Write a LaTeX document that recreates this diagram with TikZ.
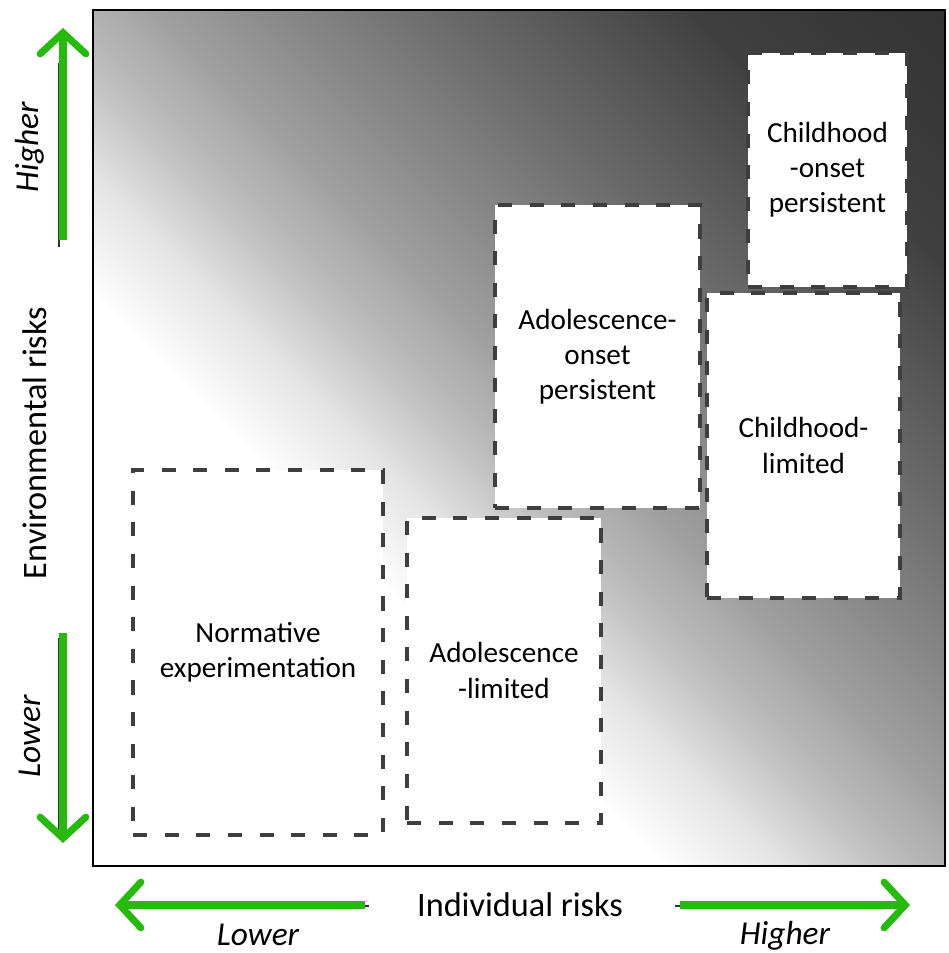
\documentclass[tikz,border=0pt]{standalone}
\usepackage{fontspec}
\setmainfont{Carlito}
\usetikzlibrary{arrows.meta,shadings}

\definecolor{riskgreen}{RGB}{38,186,12}
\definecolor{dashgray}{RGB}{62,62,62}

% background of the risk field, light bottom-left, dark top-right
\pgfdeclarehorizontalshading{riskbg}{100bp}{rgb(0bp)=(1,1,1); rgb(38bp)=(1,1,1); rgb(43bp)=(0.9,0.9,0.9); rgb(48bp)=(0.74,0.74,0.74); rgb(53bp)=(0.62,0.62,0.62); rgb(63bp)=(0.44,0.44,0.44); rgb(75bp)=(0.25,0.25,0.25); rgb(85bp)=(0.2,0.2,0.2); rgb(100bp)=(0.2,0.2,0.2)}

\tikzset{
	riskbox/.style = {draw = dashgray, line width = 2.6pt, dash pattern = on 8pt off 10pt,
		fill = white, align = center, font = \fontsize{16.6}{20}\selectfont, inner sep = 0pt},
	greenarrow/.style = {draw = riskgreen, line width = 4pt,
		-{Straight Barb[length = 12pt, width = 26pt, line cap = round]}},
	oldline/.style = {draw = black!80, line width = 1.3pt},
	axistext/.style = {font = \fontsize{19.5}{23}\selectfont},
	endtext/.style = {font = \fontsize{19}{23}\selectfont\itshape, inner sep = 0pt}
}

\begin{document}
\begin{tikzpicture}
	\useasboundingbox (0,0) rectangle (18.96,19.06);
	
	% field
	\shade[shading = riskbg, shading angle = 45] (1.86,1.74) rectangle (18.9,18.86);
	\draw[line width = 1.2pt] (1.86,1.74) rectangle (18.9,18.86);
	
	% groups
	\node[riskbox, minimum width = 5.0cm, minimum height = 7.3cm] (normative) at (5.16,6.01) {Normative\\experimentation};
	\node[riskbox, minimum width = 3.88cm, minimum height = 6.1cm] (adollim) at (10.08,5.65) {Adolescence\\-limited};
	\node[riskbox, minimum width = 4.1cm, minimum height = 6.06cm] (adolpers) at (11.95,11.93) {Adolescence-\\onset\\persistent};
	\node[riskbox, minimum width = 3.86cm, minimum height = 6.1cm] (childlim) at (16.07,10.15) {Childhood-\\limited};
	\node[riskbox, minimum width = 3.18cm, minimum height = 4.68cm] (childpers) at (16.55,15.66) {Childhood\\-onset\\persistent};
	
	% axis arrows
	\coordinate (envhitail) at (1.26,14.26);
	\coordinate (envhitip) at (1.26,18.5);
	\coordinate (envlotail) at (1.26,6.4);
	\coordinate (envlotip) at (1.26,2.2);
	\coordinate (indlotail) at (7.3,0.96);
	\coordinate (indlotip) at (2.3,0.96);
	\coordinate (indhitail) at (13.6,0.96);
	\coordinate (indhitip) at (18.2,0.96);
	
	\draw[oldline] (1.18,14.12) -- (1.18,17.8);
	\draw[oldline] (1.18,6.3) -- (1.18,2.3);
	\draw[oldline] (7.38,0.94) -- (2.6,0.94);
	\draw[oldline] (13.5,0.94) -- (17.9,0.94);
	
	\draw[greenarrow] (envhitail) -- (envhitip);
	\draw[greenarrow] (envlotail) -- (envlotip);
	\draw[greenarrow] (indlotail) -- (indlotip);
	\draw[greenarrow] (indhitail) -- (indhitip);
	
	\node[endtext, rotate = 90] (envhi) at (0.6,16.12) {Higher};
	\node[axistext, rotate = 90] (envrisk) at (0.7,10.2) {Environmental risks};
	\node[endtext, rotate = 90] (envlo) at (0.6,4.34) {Lower};
	\node[axistext] (indrisk) at (10.4,0.96) {Individual risks};
	\node[endtext] (indlo) at (5.16,0.36) {Lower};
	\node[endtext] (indhi) at (15.7,0.34) {Higher};
\end{tikzpicture}
\end{document}
